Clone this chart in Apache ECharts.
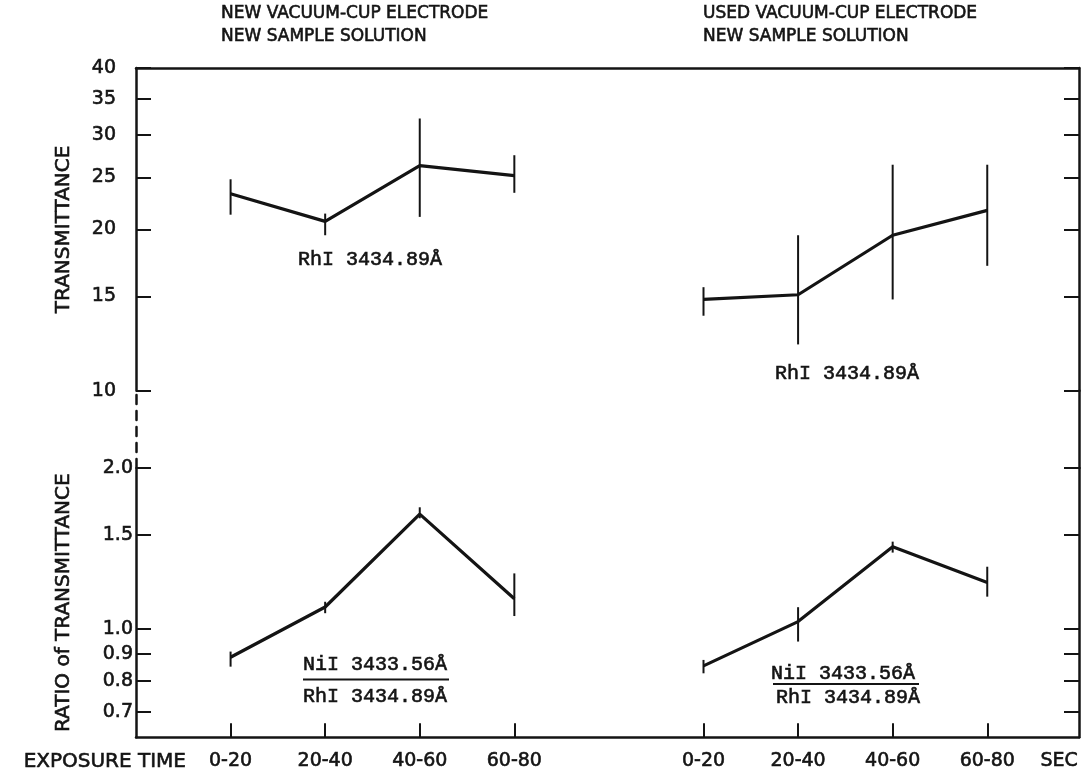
<!DOCTYPE html>
<html><head><meta charset="utf-8">
<script src="https://cdn.jsdelivr.net/npm/echarts@6/dist/echarts.min.js"></script>
<style>html,body{margin:0;padding:0;background:#fff}#c{width:1082px;height:771px}</style>
</head><body><div id="c"></div>
<script>
// ---- data ----
const categories = ['0-20', '20-40', '40-60', '60-80'];
const unitLabel = 'SEC';
const transTicks = [10, 15, 20, 25, 30, 35, 40];
const ratioTicks = [0.7, 0.8, 0.9, 1.0, 1.5, 2.0];

const transNewMean = [23.3, 20.7, 26.3, 25.2];
const transNewLow  = [21.3, 19.5, 21.1, 23.4];
const transNewHigh = [24.8, 21.4, 32.2, 27.5];

const transUsedMean = [14.8, 15.1, 19.5, 21.7];
const transUsedLow  = [13.8, 12.2, 14.8, 17.1];
const transUsedHigh = [15.6, 19.5, 26.4, 26.4];

const ratioNewMean = [0.886, 1.10, 1.64, 1.14];
const ratioNewLow  = [0.851, 1.071, 1.611, 1.058];
const ratioNewHigh = [0.908, 1.125, 1.689, 1.271];

const ratioUsedMean = [0.854, 1.033, 1.426, 1.222];
const ratioUsedLow  = [0.827, 0.948, 1.39, 1.15];
const ratioUsedHigh = [0.876, 1.099, 1.457, 1.308];

// ---- layout helpers ----
const INK = '#141414';
const FONT = 'DejaVu Sans';
const leftSlots = categories.map((c, i) => i + 1);
const rightSlots = categories.map((c, i) => i + 6);
const secSlot = 9.76;
const X_MAX = 9.97;

function labelForSlot(v) {
  const r = Math.round(v * 100) / 100;
  if (Math.abs(r - secSlot) < 0.01) return unitLabel;
  const li = leftSlots.indexOf(Math.round(r));
  if (li >= 0) return categories[li];
  const ri = rightSlots.indexOf(Math.round(r));
  if (ri >= 0) return categories[ri];
  return '';
}

function lineSeries(xs, ys, xi, yi) {
  return {
    type: 'line', xAxisIndex: xi, yAxisIndex: yi,
    data: xs.map((x, i) => [x, ys[i]]),
    symbol: 'none', silent: true, animation: false,
    lineStyle: { color: INK, width: 3.2 }
  };
}
function errSeries(xs, lo, hi, xi, yi) {
  return {
    type: 'custom', xAxisIndex: xi, yAxisIndex: yi, silent: true, animation: false,
    encode: { x: 0, y: [1, 2] },
    data: xs.map((x, i) => [x, lo[i], hi[i]]),
    renderItem: function (params, api) {
      const p1 = api.coord([api.value(0), api.value(1)]);
      const p2 = api.coord([api.value(0), api.value(2)]);
      return { type: 'line', shape: { x1: p1[0], y1: p1[1], x2: p2[0], y2: p2[1] },
               style: { stroke: INK, lineWidth: 2 } };
    }
  };
}

const axisLine = { show: true, lineStyle: { color: INK, width: 2.5 } };
const tickStyle = { color: INK, width: 2 };
const txtBold = { textBorderColor: INK, textBorderWidth: 0.6 };
const nameStyle = Object.assign({ color: INK, fontFamily: FONT, fontSize: 20 }, txtBold);

function gtext(x, y, text, font, extra) {
  return { type: 'text', x: x, y: y,
    style: Object.assign({ text: text, font: font, fill: INK, stroke: INK, lineWidth: 0.6 }, extra || {}) };
}
const MONOFONT = '20px "Liberation Mono"';
const mid = { align: 'center', verticalAlign: 'middle' };

const option = {
  backgroundColor: '#fff',
  animation: false,
  grid: [
    { left: 136, right: 3, top: 68, height: 322.7 },
    { left: 136, right: 3, top: 390.7, height: 77.3 },
    { left: 136, right: 3, top: 468, height: 269.3 }
  ],
  xAxis: [
    { gridIndex: 0, type: 'value', min: 0, max: X_MAX, position: 'top',
      axisLine: axisLine, axisTick: { show: false }, axisLabel: { show: false }, splitLine: { show: false } },
    { gridIndex: 1, type: 'value', min: 0, max: X_MAX, show: false },
    { gridIndex: 2, type: 'value', min: 0, max: X_MAX, position: 'bottom',
      axisLine: axisLine,
      axisTick: { show: true, inside: true, length: 14, lineStyle: tickStyle,
                  customValues: leftSlots.concat(rightSlots) },
      axisLabel: Object.assign({ show: true, margin: 14, color: INK, fontFamily: FONT, fontSize: 19,
                   customValues: leftSlots.concat(rightSlots, [secSlot]),
                   formatter: labelForSlot }, txtBold),
      splitLine: { show: false } }
  ],
  yAxis: [
    { gridIndex: 0, type: 'log', min: 10, max: 40, position: 'left',
      name: 'TRANSMITTANCE', nameLocation: 'middle', nameGap: 62, nameRotate: 90,
      nameTextStyle: nameStyle,
      axisLine: axisLine,
      axisTick: { show: true, inside: true, length: 15, lineStyle: tickStyle, customValues: transTicks },
      axisLabel: Object.assign({ show: true, margin: 20, color: INK, fontFamily: FONT, fontSize: 19,
                   customValues: transTicks, formatter: v => String(Math.round(v)) }, txtBold),
      splitLine: { show: false }, minorTick: { show: false } },
    { gridIndex: 0, type: 'log', min: 10, max: 40, position: 'right',
      axisLine: axisLine,
      axisTick: { show: true, inside: true, length: 15, lineStyle: tickStyle, customValues: transTicks },
      axisLabel: { show: false }, splitLine: { show: false } },
    { gridIndex: 1, type: 'value', min: 0, max: 1, position: 'left',
      axisLine: { show: true, lineStyle: { color: INK, width: 2.5, type: [9, 7] } },
      axisTick: { show: false }, axisLabel: { show: false }, splitLine: { show: false } },
    { gridIndex: 1, type: 'value', min: 0, max: 1, position: 'right',
      axisLine: axisLine, axisTick: { show: false }, axisLabel: { show: false }, splitLine: { show: false } },
    { gridIndex: 2, type: 'log', min: 0.628, max: 2.0, position: 'left',
      name: 'RATIO of TRANSMITTANCE', nameLocation: 'middle', nameGap: 62, nameRotate: 90,
      nameTextStyle: nameStyle,
      axisLine: axisLine,
      axisTick: { show: true, inside: true, length: 15, lineStyle: tickStyle, customValues: ratioTicks },
      axisLabel: Object.assign({ show: true, margin: 3, color: INK, fontFamily: FONT, fontSize: 19,
                   customValues: ratioTicks, formatter: v => (Math.round(v * 10) / 10).toFixed(1) }, txtBold),
      splitLine: { show: false } },
    { gridIndex: 2, type: 'log', min: 0.628, max: 2.0, position: 'right',
      axisLine: axisLine,
      axisTick: { show: true, inside: true, length: 15, lineStyle: tickStyle, customValues: ratioTicks },
      axisLabel: { show: false }, splitLine: { show: false } }
  ],
  series: [
    lineSeries(leftSlots, transNewMean, 0, 0),
    errSeries(leftSlots, transNewLow, transNewHigh, 0, 0),
    lineSeries(rightSlots, transUsedMean, 0, 0),
    errSeries(rightSlots, transUsedLow, transUsedHigh, 0, 0),
    lineSeries(leftSlots, ratioNewMean, 2, 4),
    errSeries(leftSlots, ratioNewLow, ratioNewHigh, 2, 4),
    lineSeries(rightSlots, ratioUsedMean, 2, 4),
    errSeries(rightSlots, ratioUsedLow, ratioUsedHigh, 2, 4)
  ],
  graphic: [
    gtext(221, 2, 'NEW VACUUM-CUP ELECTRODE\nNEW SAMPLE SOLUTION', '17px "DejaVu Sans"', { lineHeight: 23 }),
    gtext(703, 2, 'USED VACUUM-CUP ELECTRODE\nNEW SAMPLE SOLUTION', '17px "DejaVu Sans"', { lineHeight: 23 }),
    gtext(186, 761.5, 'EXPOSURE TIME', '20px "DejaVu Sans"', { align: 'right', verticalAlign: 'middle' }),
    gtext(370, 260, 'RhI 3434.89Å', MONOFONT, mid),
    gtext(847, 374, 'RhI 3434.89Å', MONOFONT, mid),
    gtext(375, 665, 'NiI 3433.56Å', MONOFONT, mid),
    { type: 'line', shape: { x1: 303, y1: 679.5, x2: 449, y2: 679.5 }, style: { stroke: INK, lineWidth: 2 } },
    gtext(375, 697, 'RhI 3434.89Å', MONOFONT, mid),
    gtext(843, 674, 'NiI 3433.56Å', MONOFONT, mid),
    { type: 'line', shape: { x1: 773, y1: 684, x2: 919, y2: 684 }, style: { stroke: INK, lineWidth: 2 } },
    gtext(848, 698, 'RhI 3434.89Å', MONOFONT, mid)
  ]
};

const chart = echarts.init(document.getElementById('c'), null, { renderer: 'canvas' });
chart.setOption(option);
</script>
</body></html>
